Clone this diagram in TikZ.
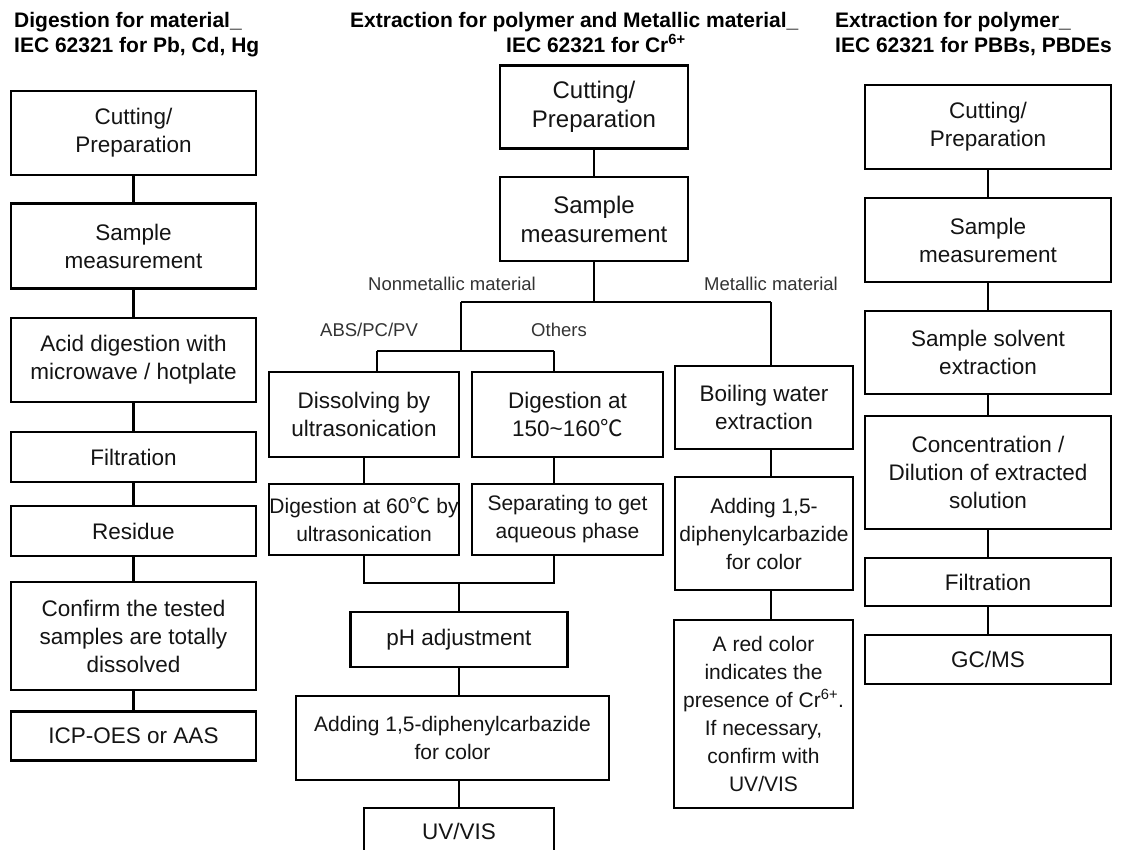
\documentclass[tikz,border=0pt]{standalone}
\usepackage{fontspec}
\setmainfont{Liberation Sans}
\newfontfamily\cjkfont{Noto Sans CJK SC}
\newcommand{\dgc}{{\cjkfont ℃}}
\begin{document}
\begin{tikzpicture}[x=1pt,y=-1pt,
  box/.style={draw=black, line width=2.1pt, inner sep=0pt, align=center,
    text=black!92, font=\fontsize{22.5}{28}\selectfont},
  smalltext/.style={font=\fontsize{21}{28}\selectfont},
  bigtext/.style={font=\fontsize{24}{29}\selectfont},
  link/.style={draw=black, line width=2.1pt},
  lbl/.style={inner sep=0pt, text=black!80, font=\fontsize{18.5}{22}\selectfont},
  ttl/.style={inner sep=0pt, align=left, text=black,
    font=\fontsize{21}{25}\selectfont\bfseries}]
\useasboundingbox (0,0) rectangle (1123,850);
\clip (0,0) rectangle (1123,850);
\fill[white] (0,0) rectangle (1123,850);

% titles
\node[ttl, anchor=north west] (T1) at (14,12) {Digestion for material\_\\IEC 62321 for Pb, Cd, Hg};
\node[ttl, anchor=north west] (T2) at (350,12) {Extraction for polymer and Metallic material\_\\\hspace*{156pt}IEC 62321 for Cr\textsuperscript{6+}};
\node[ttl, anchor=north west] (T3) at (835,12) {Extraction for polymer\_\\IEC 62321 for PBBs, PBDEs};

% left column
\node[box, minimum width=245pt, minimum height=84pt] (L1) at (133.5,133) {Cutting/\\Preparation};
\node[box, minimum width=245pt, minimum height=85pt] (L2) at (133.5,246) {Sample\\measurement};
\node[box, minimum width=245pt, minimum height=84pt] (L3) at (133.5,360) {Acid digestion with\\microwave / hotplate};
\node[box, minimum width=245pt, minimum height=50pt] (L4) at (133.5,457) {Filtration};
\node[box, minimum width=245pt, minimum height=50pt] (L5) at (133.5,531) {Residue};
\node[box, minimum width=245pt, minimum height=108pt] (L6) at (133.5,636) {Confirm the tested\\samples are totally\\dissolved};
\node[box, minimum width=245pt, minimum height=49pt] (L7) at (133.5,736) {ICP-OES or AAS};
\foreach \a/\b in {L1/L2,L2/L3,L3/L4,L4/L5,L5/L6,L6/L7}
  \draw[link] (\a.south) -- (\b.north);

% middle column
\node[box, bigtext, minimum width=188pt, minimum height=83pt] (M1) at (594,107) {Cutting/\\Preparation};
\node[box, bigtext, minimum width=188pt, minimum height=84pt] (M2) at (594,219) {Sample\\measurement};
\draw[link] (M1.south) -- (M2.north);

\coordinate (b0) at (594,302);
\coordinate (bl) at (461,302);
\coordinate (br) at (771,302);
\coordinate (cl) at (377,351);
\coordinate (c0) at (461,351);
\coordinate (cr) at (554,351);

\node[box, minimum width=190pt, minimum height=85pt] (M3) at (364,414.5) {Dissolving by\\ultrasonication};
\node[box, minimum width=191pt, minimum height=85pt] (M4) at (567.5,414.5) {Digestion at\\150\textasciitilde160\dgc};
\node[box, smalltext, minimum width=190pt, minimum height=71pt] (M5) at (364,519.5) {Digestion at 60\dgc\ by\\ultrasonication};
\node[box, smalltext, minimum width=191pt, minimum height=71pt] (M6) at (567.5,519.5) {Separating to get\\aqueous phase};
\node[box, minimum width=217pt, minimum height=55pt] (M7) at (459,639.5) {pH adjustment};
\node[box, smalltext, minimum width=313pt, minimum height=84pt] (M8) at (452.5,738) {Adding 1,5-diphenylcarbazide\\for color};
\node[box, minimum width=190pt, minimum height=46pt] (M9) at (459,831) {UV/VIS};

\draw[link] (M2.south) -- (b0);
\draw[link] (bl) -- (br);
\draw[link] (bl) -- (c0);
\draw[link] (cl) -- (cr);
\draw[link] (cl) -- (cl |- M3.north);
\draw[link] (cr) -- (cr |- M4.north);
\draw[link] (M3.south) -- (M5.north);
\draw[link] (M4.south -| cr) -- (M6.north -| cr);
\coordinate (dl) at (364,583);
\coordinate (d0) at (459,583);
\coordinate (dr) at (554,583);
\draw[link] (M5.south) -- (dl) -- (dr) -- (dr |- M6.south);
\draw[link] (d0) -- (M7.north);
\draw[link] (M7.south) -- (M7.south |- M8.north);
\draw[link] (M8.south -| M9.north) -- (M9.north);

% labels
\node[lbl] (N1) at (452,284) {Nonmetallic material};
\node[lbl] (N2) at (771,284) {Metallic material};
\node[lbl] (N3) at (369,330) {ABS/PC/PV};
\node[lbl] (N4) at (559,330) {Others};

% metallic column
\node[box, minimum width=178pt, minimum height=83pt] (R1) at (764,407.5) {Boiling water\\extraction};
\node[box, smalltext, minimum width=178pt, minimum height=113pt] (R2) at (764,533.5) {Adding 1,5-\\diphenylcarbazide\\for color};
\node[box, smalltext, minimum width=179pt, minimum height=188pt] (R3) at (763.5,714) {A red color\\indicates the\\presence of Cr\textsuperscript{6+}.\\If necessary,\\confirm with\\UV/VIS};
\draw[link] (br) -- (br |- R1.north);
\draw[link] (R1.south -| br) -- (R2.north -| br);
\draw[link] (R2.south -| br) -- (R3.north -| br);

% right column
\node[box, minimum width=246pt, minimum height=84pt] (P1) at (988,127) {Cutting/\\Preparation};
\node[box, minimum width=246pt, minimum height=84pt] (P2) at (988,240) {Sample\\measurement};
\node[box, minimum width=246pt, minimum height=83pt] (P3) at (988,352.5) {Sample solvent\\extraction};
\node[box, minimum width=246pt, minimum height=113pt] (P4) at (988,472.5) {Concentration /\\Dilution of extracted\\solution};
\node[box, minimum width=246pt, minimum height=48pt] (P5) at (988,582) {Filtration};
\node[box, minimum width=246pt, minimum height=49pt] (P6) at (988,659.5) {GC/MS};
\foreach \a/\b in {P1/P2,P2/P3,P3/P4,P4/P5,P5/P6}
  \draw[link] (\a.south) -- (\b.north);
\end{tikzpicture}
\end{document}
